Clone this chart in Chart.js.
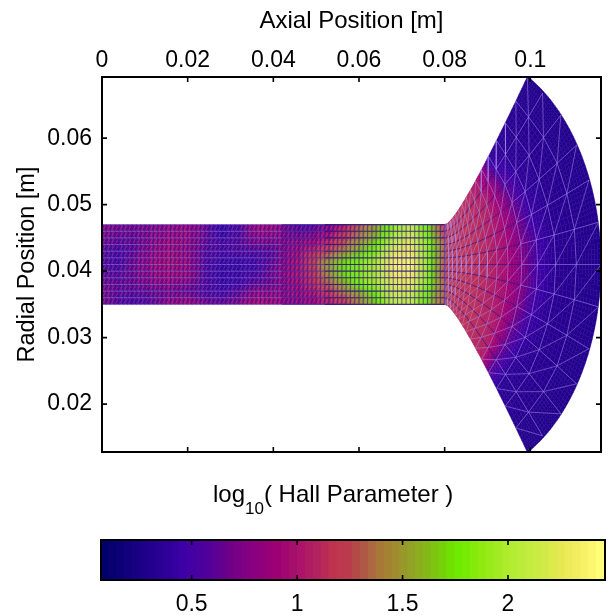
<!DOCTYPE html>
<html>
<head>
<meta charset="utf-8">
<title>Hall Parameter</title>
<script src="https://cdn.jsdelivr.net/npm/chart.js@4"></script>
<style>
  body { margin: 0; background: #fff; }
  canvas { position: absolute; left: 0; }
  #fieldLabel { position: absolute; left: 213px; top: 480px; font: 24px "Liberation Sans", sans-serif; color: #000; white-space: nowrap; line-height: 28px; }
  #fieldLabel span { font-size: 17px; position: relative; top: 12px; }
</style>
</head>
<body>
<canvas id="fieldChart" width="611" height="520" style="top:0"></canvas>
<div id="fieldLabel">log<span>10</span>( Hall Parameter )</div>
<canvas id="barChart" width="611" height="96" style="top:520px"></canvas>
<script>
const xTicks = [0, 0.02, 0.04, 0.06, 0.08, 0.1];
const yTicks = [0.02, 0.03, 0.04, 0.05, 0.06];
const barTicks = [0.5, 1, 1.5, 2];

// mesh stations in the channel, metres
const channelX = [0, 0.001, 0.002, 0.003, 0.004, 0.005, 0.006, 0.007, 0.008, 0.009, 0.01, 0.011, 0.012, 0.013, 0.014, 0.015, 0.016, 0.017, 0.018, 0.019, 0.02, 0.021, 0.022, 0.023, 0.024, 0.025, 0.026, 0.027, 0.028, 0.029, 0.03, 0.031, 0.032, 0.033, 0.034, 0.035, 0.036, 0.037, 0.038, 0.039, 0.04, 0.041, 0.042, 0.043, 0.044, 0.045, 0.046, 0.047, 0.048, 0.049, 0.05, 0.051, 0.052, 0.053, 0.054, 0.055, 0.056, 0.057, 0.058, 0.059, 0.06, 0.061, 0.062, 0.063, 0.064, 0.065, 0.066, 0.067, 0.068, 0.069, 0.07, 0.071, 0.072, 0.073, 0.074, 0.075, 0.076, 0.077, 0.078, 0.079, 0.08];
const channelY = [0.047, 0.046, 0.045, 0.044, 0.043, 0.042, 0.041, 0.04, 0.039, 0.038, 0.037, 0.036, 0.035];

// log10 Hall parameter, one row per channelY
const fieldX = [0, 0.004, 0.008, 0.012, 0.016, 0.02, 0.024, 0.028, 0.032, 0.036, 0.04, 0.044, 0.048, 0.052, 0.056, 0.06, 0.064, 0.068, 0.072, 0.076, 0.08];
const channelField = [
  [0.80, 0.74, 0.70, 0.76, 0.84, 0.88, 0.70, 0.42, 0.58, 0.92, 0.94, 0.62, 0.56, 0.66, 1.00, 1.30, 1.50, 1.85, 2.10, 1.72, 1.15],
  [0.76, 0.70, 0.68, 0.78, 0.86, 0.90, 0.68, 0.40, 0.56, 0.88, 0.88, 0.66, 0.62, 0.80, 1.12, 1.35, 1.55, 1.90, 2.15, 1.78, 1.20],
  [0.72, 0.66, 0.65, 0.80, 0.88, 0.88, 0.66, 0.46, 0.58, 0.80, 0.80, 0.72, 0.76, 0.95, 1.18, 1.40, 1.60, 1.98, 2.20, 1.82, 1.25],
  [0.66, 0.60, 0.65, 0.82, 0.92, 0.84, 0.64, 0.52, 0.60, 0.70, 0.70, 0.80, 0.90, 1.08, 1.28, 1.50, 1.72, 2.10, 2.25, 1.88, 1.32],
  [0.60, 0.55, 0.65, 0.85, 0.95, 0.84, 0.60, 0.52, 0.58, 0.58, 0.62, 0.84, 1.04, 1.20, 1.40, 1.60, 1.82, 2.20, 2.30, 1.88, 1.32],
  [0.58, 0.52, 0.70, 0.88, 0.96, 0.86, 0.58, 0.48, 0.48, 0.50, 0.62, 0.86, 1.10, 1.35, 1.60, 1.75, 1.92, 2.28, 2.35, 1.88, 1.32],
  [0.58, 0.55, 0.72, 0.90, 0.96, 0.88, 0.58, 0.44, 0.44, 0.48, 0.68, 0.88, 1.10, 1.45, 1.70, 1.82, 1.98, 2.32, 2.38, 1.88, 1.28],
  [0.60, 0.58, 0.72, 0.88, 0.95, 0.88, 0.58, 0.42, 0.44, 0.52, 0.70, 0.90, 1.08, 1.40, 1.70, 1.82, 1.98, 2.30, 2.36, 1.88, 1.28],
  [0.64, 0.62, 0.70, 0.84, 0.92, 0.86, 0.58, 0.42, 0.46, 0.56, 0.70, 0.92, 1.05, 1.35, 1.65, 1.82, 1.98, 2.26, 2.32, 1.88, 1.28],
  [0.70, 0.65, 0.70, 0.78, 0.82, 0.76, 0.58, 0.44, 0.50, 0.64, 0.70, 0.85, 1.05, 1.25, 1.50, 1.78, 1.92, 2.20, 2.25, 1.82, 1.32],
  [0.72, 0.65, 0.62, 0.68, 0.72, 0.66, 0.56, 0.50, 0.60, 0.80, 0.80, 0.84, 0.96, 1.15, 1.40, 1.58, 1.82, 2.15, 2.15, 1.78, 1.32],
  [0.74, 0.60, 0.58, 0.65, 0.78, 0.80, 0.63, 0.58, 0.70, 0.92, 0.90, 0.80, 0.90, 1.05, 1.25, 1.45, 1.72, 2.10, 2.10, 1.72, 1.30],
  [0.76, 0.58, 0.56, 0.65, 0.88, 0.92, 0.76, 0.63, 0.78, 0.98, 0.92, 0.78, 0.86, 1.02, 1.15, 1.40, 1.65, 2.05, 2.10, 1.68, 1.30]
];

// plume mesh: fraction of each ray's length, where each ray lands on the outer arc, how far it runs level first
const plumeStations = [0, 0.024, 0.048, 0.076, 0.104, 0.136, 0.174, 0.219, 0.271, 0.333, 0.405, 0.49, 0.59, 0.705, 0.84, 1];
const rayEndX = [0.0993, 0.10285, 0.10713, 0.1108, 0.11367, 0.11593, 0.1165, 0.11593, 0.11367, 0.1108, 0.10713, 0.10285, 0.0993];
const rayEndY = [0.0692, 0.06677, 0.06346, 0.05895, 0.05368, 0.04737, 0.041, 0.03463, 0.02832, 0.02305, 0.01854, 0.01523, 0.0128];
const rayBend = [0.003, 0.004, 0.005, 0.006, 0.007, 0.008, 0.008, 0.008, 0.007, 0.006, 0.005, 0.004, 0.003];
const arcCentreX = 0.0846;
const arcCentreY = 0.041;
const arcRadius = 0.0319;

// one row per ray, one column per plume station
const plumeField = [
  [1.15, 1.15, 1.15, 1.15, 1.15, 1.15, 1.15, 1.12, 1.08, 1.00, 0.80, 0.38, 0.35, 0.34, 0.32, 0.30],
  [1.20, 1.20, 1.20, 1.18, 1.15, 1.15, 1.15, 1.12, 1.10, 1.02, 0.85, 0.48, 0.36, 0.34, 0.32, 0.30],
  [1.25, 1.22, 1.20, 1.18, 1.15, 1.15, 1.15, 1.12, 1.10, 1.05, 0.90, 0.58, 0.38, 0.34, 0.32, 0.30],
  [1.30, 1.25, 1.20, 1.18, 1.15, 1.15, 1.15, 1.12, 1.10, 1.05, 0.92, 0.66, 0.40, 0.34, 0.32, 0.30],
  [1.30, 1.25, 1.20, 1.18, 1.18, 1.15, 1.15, 1.12, 1.10, 1.03, 0.94, 0.72, 0.44, 0.34, 0.32, 0.30],
  [1.30, 1.25, 1.20, 1.18, 1.18, 1.15, 1.15, 1.12, 1.10, 1.03, 0.94, 0.75, 0.50, 0.34, 0.32, 0.30],
  [1.25, 1.25, 1.20, 1.18, 1.18, 1.15, 1.15, 1.12, 1.10, 1.03, 0.94, 0.76, 0.50, 0.34, 0.32, 0.30],
  [1.25, 1.25, 1.20, 1.18, 1.18, 1.15, 1.15, 1.12, 1.10, 1.03, 0.94, 0.76, 0.50, 0.34, 0.32, 0.30],
  [1.25, 1.25, 1.20, 1.18, 1.18, 1.15, 1.15, 1.12, 1.10, 1.04, 0.96, 0.75, 0.46, 0.34, 0.32, 0.30],
  [1.30, 1.25, 1.20, 1.18, 1.15, 1.15, 1.15, 1.12, 1.10, 1.06, 0.98, 0.68, 0.42, 0.34, 0.32, 0.30],
  [1.30, 1.25, 1.20, 1.18, 1.15, 1.15, 1.15, 1.14, 1.12, 1.08, 1.00, 0.65, 0.38, 0.34, 0.32, 0.30],
  [1.30, 1.25, 1.20, 1.18, 1.15, 1.15, 1.15, 1.14, 1.12, 1.10, 1.03, 0.62, 0.36, 0.34, 0.32, 0.30],
  [1.30, 1.25, 1.20, 1.18, 1.15, 1.15, 1.15, 1.14, 1.12, 1.10, 1.03, 0.60, 0.36, 0.34, 0.32, 0.30]
];

const barLevels = [0.089, 0.126, 0.163, 0.201, 0.238, 0.275, 0.313, 0.35, 0.387, 0.425, 0.462, 0.499, 0.537, 0.574, 0.611, 0.649, 0.686, 0.723, 0.761, 0.798, 0.835, 0.873, 0.91, 0.947, 0.985, 1.022, 1.059, 1.097, 1.134, 1.171, 1.209, 1.246, 1.283, 1.321, 1.358, 1.395, 1.433, 1.47, 1.507, 1.545, 1.582, 1.619, 1.657, 1.694, 1.731, 1.769, 1.806, 1.843, 1.881, 1.918, 1.955, 1.993, 2.03, 2.067, 2.105, 2.142, 2.179, 2.217, 2.254, 2.291, 2.329, 2.366, 2.403, 2.441];
const barColors = ["#00006a", "#060070", "#0c0076", "#12007c", "#180082", "#1e0088", "#24008e", "#2a0094", "#30009a", "#3600a0", "#3c00a5", "#4400a2", "#4a009e", "#50009a", "#5a0096", "#640090", "#6e0088", "#780086", "#820082", "#8a0080", "#90007c", "#980078", "#9e0074", "#a20670", "#a60e6c", "#ab146a", "#ae1c64", "#b2225e", "#b82a58", "#be3250", "#bc384e", "#ba3c4c", "#b44a48", "#b05846", "#ac6840", "#a87838", "#a48232", "#9e8c2e", "#98982a", "#92a226", "#8cae1e", "#84b818", "#7ec410", "#76d208", "#70e000", "#6eeb00", "#78eb04", "#84ea0a", "#90ea10", "#98ea18", "#a2eb22", "#acec2c", "#b4ec34", "#bbec3a", "#c2ec40", "#c8ec44", "#d2ea48", "#dcea4c", "#e6e850", "#ecea58", "#f2ec60", "#f6f268", "#fbf870", "#ffff78"];

const TICK_FONT = { family: '"Liberation Sans", sans-serif', size: 23 };
const TITLE_FONT = { family: '"Liberation Sans", sans-serif', size: 24 };
const INK = "#000";

// channel row lines read lavender on the dim part and navy on the bright part
const midLinesFrom = 0.042;
const darkLinesFrom = 0.052;

function colorFor(v) {
  const step = barLevels[1] - barLevels[0];
  let k = (v - barLevels[0]) / step;
  k = Math.max(0, Math.min(barColors.length - 1, k));
  const a = Math.floor(k), b = Math.min(barColors.length - 1, a + 1), f = k - a;
  const ch = (hex, n) => parseInt(hex.substr(1 + n * 2, 2), 16);
  const mix = n => Math.round(ch(barColors[a], n) * (1 - f) + ch(barColors[b], n) * f);
  return "rgb(" + mix(0) + "," + mix(1) + "," + mix(2) + ")";
}

function lerp(a, b, f) { return a + (b - a) * f; }

function channelValue(x, j) {
  let c = 0;
  while (c < fieldX.length - 2 && x > fieldX[c + 1]) c++;
  const f = (x - fieldX[c]) / (fieldX[c + 1] - fieldX[c]);
  return lerp(channelField[j][c], channelField[j][c + 1], f);
}

// rays leave the channel level and bend up to the outer arc
function rayPoint(j, t) {
  const x0 = 0.08, y0 = channelY[j], x1 = 0.08 + rayBend[j];
  return {
    x: (1 - t) * (1 - t) * x0 + 2 * t * (1 - t) * x1 + t * t * rayEndX[j],
    y: (1 - t) * (1 - t) * y0 + 2 * t * (1 - t) * y0 + t * t * rayEndY[j]
  };
}

// stations are fractions of ray length, so walk each ray once to find them
const plumeNodes = channelY.map((_, j) => {
  const samples = 200, lengths = [0];
  let prev = rayPoint(j, 0);
  for (let s = 1; s <= samples; s++) {
    const p = rayPoint(j, s / samples);
    lengths.push(lengths[s - 1] + Math.hypot(p.x - prev.x, p.y - prev.y));
    prev = p;
  }
  return plumeStations.map(f => {
    let s = 0;
    while (s < samples && lengths[s] < f * lengths[samples]) s++;
    return rayPoint(j, s / samples);
  });
});

function arcPoint(j, v) {
  const a0 = Math.atan2(rayEndY[j] - arcCentreY, rayEndX[j] - arcCentreX);
  const a1 = Math.atan2(rayEndY[j + 1] - arcCentreY, rayEndX[j + 1] - arcCentreX);
  const a = lerp(a0, a1, v);
  return { x: arcCentreX + arcRadius * Math.cos(a), y: arcCentreY + arcRadius * Math.sin(a) };
}

function shadeQuad(ctx, sx, sy, n, corner, value) {
  for (let a = 0; a < n; a++) {
    for (let b = 0; b < n; b++) {
      const pts = [[a, b], [a + 1, b], [a + 1, b + 1], [a, b + 1]].map(p => {
        const q = corner(p[0] / n, p[1] / n);
        return [sx.getPixelForValue(q.x), sy.getPixelForValue(q.y)];
      });
      const col = colorFor(value((a + 0.5) / n, (b + 0.5) / n));
      ctx.fillStyle = col;
      ctx.strokeStyle = col;
      ctx.lineWidth = 0.5;
      ctx.beginPath();
      ctx.moveTo(pts[0][0], pts[0][1]);
      for (let p = 1; p < 4; p++) ctx.lineTo(pts[p][0], pts[p][1]);
      ctx.closePath();
      ctx.fill();
      ctx.stroke();
    }
  }
}

const fieldPlugin = {
  id: "field",
  beforeDatasetsDraw(chart) {
    const ctx = chart.ctx, sx = chart.scales.x, sy = chart.scales.y;
    ctx.save();
    for (let j = 0; j < channelY.length - 1; j++) {
      for (let i = 0; i < channelX.length - 1; i++) {
        const x0 = channelX[i], x1 = channelX[i + 1], y0 = channelY[j], y1 = channelY[j + 1];
        shadeQuad(ctx, sx, sy, 2,
          (u, v) => ({ x: lerp(x0, x1, u), y: lerp(y0, y1, v) }),
          (u, v) => lerp(channelValue(lerp(x0, x1, u), j), channelValue(lerp(x0, x1, u), j + 1), v));
      }
    }
    const last = plumeStations.length - 1;
    for (let j = 0; j < channelY.length - 1; j++) {
      for (let i = 0; i < last; i++) {
        const n00 = plumeNodes[j][i], n10 = plumeNodes[j][i + 1], n01 = plumeNodes[j + 1][i], n11 = plumeNodes[j + 1][i + 1];
        shadeQuad(ctx, sx, sy, i === last - 1 ? 8 : 5,
          (u, v) => {
            const inner = { x: lerp(n00.x, n01.x, v), y: lerp(n00.y, n01.y, v) };
            const outer = i === last - 1 ? arcPoint(j, v) : { x: lerp(n10.x, n11.x, v), y: lerp(n10.y, n11.y, v) };
            return { x: lerp(inner.x, outer.x, u), y: lerp(inner.y, outer.y, u) };
          },
          (u, v) => lerp(lerp(plumeField[j][i], plumeField[j][i + 1], u), lerp(plumeField[j + 1][i], plumeField[j + 1][i + 1], u), v));
      }
    }
    ctx.restore();
  }
};

// box with inward ticks on all four sides, like the original axes
const framePlugin = {
  id: "frame",
  afterDraw(chart) {
    const ctx = chart.ctx, a = chart.chartArea, sx = chart.scales.x, sy = chart.scales.y;
    ctx.save();
    ctx.strokeStyle = "#000";
    ctx.lineWidth = 1.6;
    ctx.beginPath();
    sx.ticks.forEach(t => {
      const p = sx.getPixelForValue(t.value);
      ctx.moveTo(p, a.top); ctx.lineTo(p, a.top + 5);
      ctx.moveTo(p, a.bottom); ctx.lineTo(p, a.bottom - 5);
    });
    if (sy.options.display) {
      sy.ticks.forEach(t => {
        const p = sy.getPixelForValue(t.value);
        ctx.moveTo(a.left, p); ctx.lineTo(a.left + 5, p);
        ctx.moveTo(a.right, p); ctx.lineTo(a.right - 5, p);
      });
    }
    ctx.stroke();
    ctx.lineWidth = 2;
    ctx.strokeRect(a.left, a.top, a.right - a.left, a.bottom - a.top);
    ctx.restore();
  }
};

const rowsLight = [];
const rowsMid = [];
const rowsDark = [];
const columnLines = [];
const slashLines = [];
const plumeRaysInner = [];
const plumeLight = [];
const GAP = { x: NaN, y: NaN };

function addEdge(list, p, q) { list.push(p, q, GAP); }

for (let j = 0; j < channelY.length; j++) {
  for (let i = 0; i < channelX.length; i++) {
    const p = { x: channelX[i], y: channelY[j] };
    if (i < channelX.length - 1) {
      const rows = channelX[i] < midLinesFrom ? rowsLight : channelX[i] < darkLinesFrom ? rowsMid : rowsDark;
      addEdge(rows, p, { x: channelX[i + 1], y: channelY[j] });
    }
    if (j < channelY.length - 1) addEdge(columnLines, p, { x: channelX[i], y: channelY[j + 1] });
    if (j < channelY.length - 1 && i > 0) addEdge(slashLines, p, { x: channelX[i - 1], y: channelY[j + 1] });
  }
}
for (let j = 0; j < channelY.length; j++) {
  for (let i = 0; i < plumeStations.length; i++) {
    const p = plumeNodes[j][i];
    const onBoundary = j === 0 || j === channelY.length - 1;
    if (i < plumeStations.length - 1 && !onBoundary) addEdge(i < 11 ? plumeRaysInner : plumeLight, p, plumeNodes[j][i + 1]);
    if (j < channelY.length - 1 && i < plumeStations.length - 1) addEdge(plumeLight, p, plumeNodes[j + 1][i]);
    if (j < channelY.length - 1 && i > 0) addEdge(plumeLight, p, plumeNodes[j + 1][i - 1]);
  }
}

const edgeDataset = (label, data, color, width) => ({
  label, data, showLine: true, spanGaps: false, pointRadius: 0,
  borderColor: color, borderWidth: width
});

new Chart(document.getElementById("fieldChart"), {
  type: "scatter",
  data: {
    datasets: [
      edgeDataset("channel columns", columnLines, "rgba(40,20,130,0.26)", 1),
      edgeDataset("channel slashes", slashLines, "rgba(190,165,245,0.45)", 0.5),
      edgeDataset("channel rows light", rowsLight, "rgba(140,115,220,0.8)", 0.9),
      edgeDataset("channel rows mid", rowsMid, "rgba(75,55,170,0.8)", 1),
      edgeDataset("channel rows dark", rowsDark, "rgba(30,15,125,0.85)", 1.1),
      edgeDataset("plume light lines", plumeLight, "rgba(175,145,240,0.7)", 0.7),
      edgeDataset("plume inner rays", plumeRaysInner, "rgba(40,20,135,0.85)", 0.8)
    ]
  },
  options: {
    responsive: false,
    animation: false,
    layout: { padding: { left: 0, top: 0, right: 10, bottom: 68 } },
    plugins: { legend: { display: false }, tooltip: { enabled: false } },
    scales: {
      x: {
        type: "linear",
        position: "top",
        min: 0,
        max: 0.1165,
        grid: { display: false, drawTicks: false },
        border: { display: false },
        afterFit: s => { s.height = 77; },
        afterBuildTicks: s => { s.ticks = xTicks.map(v => ({ value: v })); },
        ticks: { color: INK, font: TICK_FONT, padding: 3, maxRotation: 0, autoSkip: false, callback: v => String(v) },
        title: { display: true, text: "Axial Position [m]", color: INK, font: TITLE_FONT, padding: { top: 7, bottom: 4 } }
      },
      y: {
        type: "linear",
        min: 0.0128,
        max: 0.0692,
        grid: { display: false, drawTicks: false },
        border: { display: false },
        afterFit: s => { s.width = 102; },
        afterBuildTicks: s => { s.ticks = yTicks.map(v => ({ value: v })); },
        ticks: { color: INK, font: TICK_FONT, padding: 10, autoSkip: false, callback: v => String(v) },
        title: { display: true, text: "Radial Position [m]", color: INK, font: { family: TITLE_FONT.family, size: 23.5 }, padding: { top: 13, bottom: 4 } }
      }
    }
  },
  plugins: [fieldPlugin, framePlugin]
});

new Chart(document.getElementById("barChart"), {
  type: "bar",
  data: {
    datasets: [{
      label: "log10( Hall Parameter )",
      data: barLevels.map(v => ({ x: v, y: 1 })),
      backgroundColor: barColors,
      barThickness: 9,
      borderWidth: 0
    }]
  },
  options: {
    responsive: false,
    animation: false,
    layout: { padding: { left: 101, top: 20, right: 6, bottom: 0 } },
    plugins: { legend: { display: false }, tooltip: { enabled: false } },
    scales: {
      x: {
        type: "linear",
        offset: false,
        min: 0.07,
        max: 2.46,
        grid: { display: false, drawTicks: false },
        border: { display: false },
        afterFit: s => { s.height = 36; },
        afterBuildTicks: s => { s.ticks = barTicks.map(v => ({ value: v })); },
        ticks: { color: INK, font: TICK_FONT, padding: 11, maxRotation: 0, autoSkip: false, callback: v => String(v) }
      },
      y: { display: false, min: 0, max: 1 }
    }
  },
  plugins: [framePlugin]
});
</script>
</body>
</html>
